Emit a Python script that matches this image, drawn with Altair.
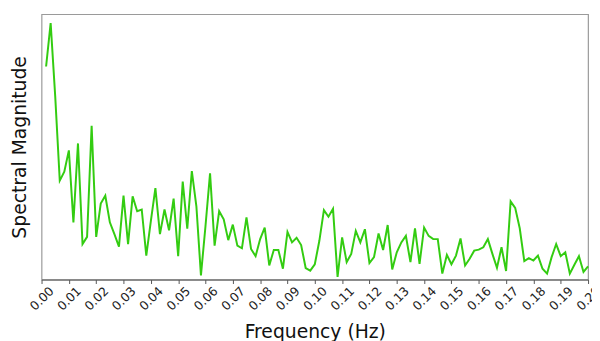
import altair as alt
import pandas as pd

# frequency bins: i/600 Hz, i = 1..120
bin_index = list(range(1, 121))
magnitude = [
    216, 260, 186, 100.3, 109.3, 131, 58, 138, 36, 43.3,
    156, 43.3, 77, 85, 58, 46, 33.3, 85, 36, 84.3,
    69.3, 71, 24.3, 59.3, 92.7, 46, 71, 50, 82, 23.7,
    99.3, 51.7, 110, 74.3, 4.3, 54.3, 107.7, 34.3, 69.3, 61,
    40, 55.7, 34.3, 31.7, 63, 31, 23.7, 41, 52.7, 14.3,
    30, 30, 11, 48.3, 37.7, 42.3, 35, 11.7, 9, 15.5,
    39.3, 70.3, 63.7, 71.7, 2.7, 42.7, 17.7, 26, 49.3, 37.7,
    51, 16.7, 22.7, 46.7, 30, 55.3, 10.3, 27.7, 37.7, 44.3,
    17.7, 52, 16, 52.7, 44.3, 41, 41, 6, 25, 15.5,
    24.3, 41.7, 14.3, 21, 29.3, 30.3, 32.7, 41, 26, 12,
    32.7, 8.7, 79.3, 72.7, 52, 18.7, 21.7, 19.3, 24.3, 11,
    6, 22.7, 36, 23.7, 27.7, 6, 15, 23.7, 7.7, 13.3,
]
tick_values = [round(k * 0.01, 2) for k in range(21)]

df = pd.DataFrame({
    "freq": [i / 600 for i in bin_index],
    "mag": magnitude,
})

chart = (
    alt.Chart(df)
    .mark_line(color="#33cc11", strokeWidth=2)
    .encode(
        x=alt.X(
            "freq:Q",
            scale=alt.Scale(domain=[0, 0.2], nice=False, zero=False),
            axis=alt.Axis(
                title="Frequency (Hz)",
                values=tick_values,
                format=".2f",
                labelAngle=-45,
                labelAlign="center",
                labelBaseline="middle",
                labelPadding=15,
                labelFontSize=12.5,
                labelColor="#222",
                labelFont="DejaVu Sans",
                tickSize=4,
                tickColor="#555",
                domainColor="#555",
                grid=False,
                labelOverlap=False,
                titleFont="DejaVu Sans",
                titleFontSize=19,
                titleFontWeight="normal",
                titleColor="#111",
                titleY=59,
                titleBaseline="alphabetic",
            ),
        ),
        y=alt.Y(
            "mag:Q",
            scale=alt.Scale(domain=[0, 269], nice=False),
            axis=alt.Axis(
                title="Spectral Magnitude",
                labels=False,
                ticks=False,
                domain=False,
                grid=False,
                titleFont="DejaVu Sans",
                titleFontSize=19,
                titleFontWeight="normal",
                titleColor="#111",
                titlePadding=12,
            ),
        ),
    )
    .properties(
        width=554,
        height=269,
        autosize=alt.AutoSizeParams(type="none"),
        padding={"left": 34, "top": 4, "right": 4, "bottom": 60},
    )
    .configure_view(stroke="#9a9a9a", strokeWidth=1.2)
)

chart.save("out.html", embed_options={"renderer": "svg", "actions": False})
